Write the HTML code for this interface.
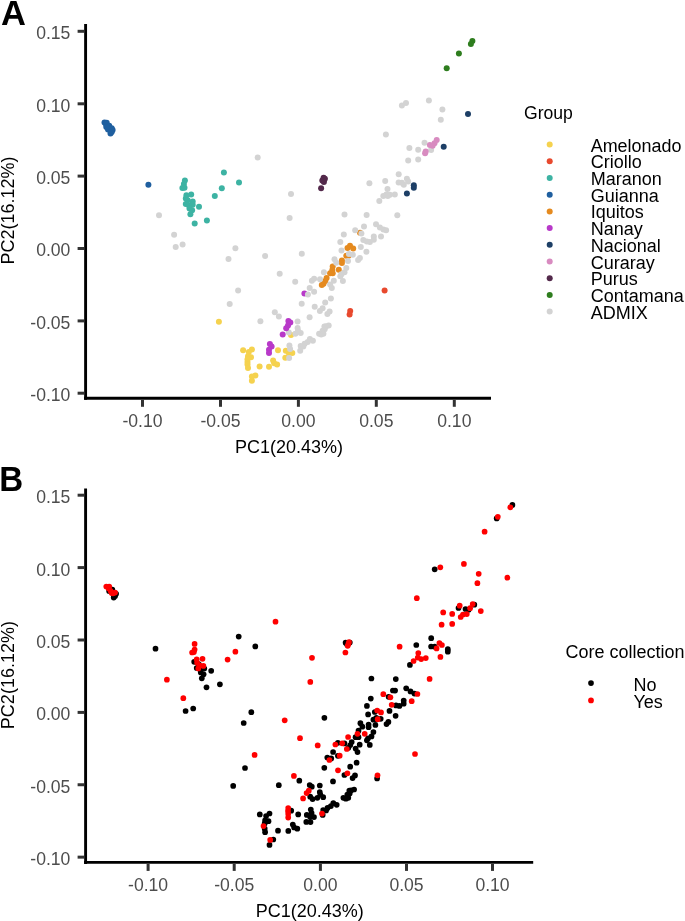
<!DOCTYPE html>
<html lang="en"><head><meta charset="utf-8"><title>PCA</title>
<style>
html,body{margin:0;padding:0;background:#fff;}
body{width:685px;height:921px;overflow:hidden;}
svg{display:block;font-family:"Liberation Sans", sans-serif;}
</style></head><body>
<svg width="685" height="921" viewBox="0 0 685 921">
<rect width="685" height="921" fill="#fff"/>
<g id="panelA">
<circle cx="285.8" cy="350.8" r="3.0" fill="#F5D24F"/>
<circle cx="288.8" cy="353" r="3.0" fill="#F5D24F"/>
<circle cx="292.3" cy="353" r="3.0" fill="#F5D24F"/>
<circle cx="285.3" cy="357.8" r="3.0" fill="#F5D24F"/>
<circle cx="291" cy="335" r="3.0" fill="#F5D24F"/>
<circle cx="341.9" cy="260.5" r="3.0" fill="#E58A1F"/>
<circle cx="341.9" cy="263.1" r="3.0" fill="#E58A1F"/>
<circle cx="332.7" cy="266.6" r="3.0" fill="#E58A1F"/>
<circle cx="338.8" cy="269.7" r="3.0" fill="#E58A1F"/>
<circle cx="332.3" cy="270.1" r="3.0" fill="#E58A1F"/>
<circle cx="330.1" cy="273.2" r="3.0" fill="#E58A1F"/>
<circle cx="332.7" cy="273.2" r="3.0" fill="#E58A1F"/>
<circle cx="326.6" cy="278" r="3.0" fill="#E58A1F"/>
<circle cx="325.3" cy="281.1" r="3.0" fill="#E58A1F"/>
<circle cx="323.5" cy="283.7" r="3.0" fill="#E58A1F"/>
<circle cx="321.8" cy="285" r="3.0" fill="#E58A1F"/>
<circle cx="346.3" cy="255.7" r="3.0" fill="#E58A1F"/>
<circle cx="360" cy="232.8" r="3.0" fill="#E58A1F"/>
<circle cx="350" cy="245.8" r="3.0" fill="#E58A1F"/>
<circle cx="347.5" cy="248" r="3.0" fill="#E58A1F"/>
<circle cx="353.2" cy="248.4" r="3.0" fill="#E58A1F"/>
<circle cx="348.5" cy="255.8" r="3.0" fill="#E58A1F"/>
<circle cx="304.4" cy="293.5" r="3.0" fill="#B839C9"/>
<circle cx="159" cy="215.3" r="3.0" fill="#D3D3D3"/>
<circle cx="174.1" cy="234.8" r="3.0" fill="#D3D3D3"/>
<circle cx="182.6" cy="244.5" r="3.0" fill="#D3D3D3"/>
<circle cx="175.7" cy="247" r="3.0" fill="#D3D3D3"/>
<circle cx="235.4" cy="248.2" r="3.0" fill="#D3D3D3"/>
<circle cx="257.7" cy="157.6" r="3.0" fill="#D3D3D3"/>
<circle cx="291" cy="194" r="3.0" fill="#D3D3D3"/>
<circle cx="289.6" cy="218.1" r="3.0" fill="#D3D3D3"/>
<circle cx="428.9" cy="100.4" r="3.0" fill="#D3D3D3"/>
<circle cx="406" cy="102.9" r="3.0" fill="#D3D3D3"/>
<circle cx="401.9" cy="105.4" r="3.0" fill="#D3D3D3"/>
<circle cx="442.4" cy="109.5" r="3.0" fill="#D3D3D3"/>
<circle cx="440.8" cy="119.8" r="3.0" fill="#D3D3D3"/>
<circle cx="424.5" cy="142.8" r="3.0" fill="#D3D3D3"/>
<circle cx="409.4" cy="148" r="3.0" fill="#D3D3D3"/>
<circle cx="418.2" cy="149.8" r="3.0" fill="#D3D3D3"/>
<circle cx="431.1" cy="150.1" r="3.0" fill="#D3D3D3"/>
<circle cx="408.2" cy="160.4" r="3.0" fill="#D3D3D3"/>
<circle cx="418.2" cy="159.5" r="3.0" fill="#D3D3D3"/>
<circle cx="398.7" cy="174.2" r="3.0" fill="#D3D3D3"/>
<circle cx="406.9" cy="178.8" r="3.0" fill="#D3D3D3"/>
<circle cx="408.2" cy="181.5" r="3.0" fill="#D3D3D3"/>
<circle cx="401.9" cy="182.8" r="3.0" fill="#D3D3D3"/>
<circle cx="403.8" cy="184.7" r="3.0" fill="#D3D3D3"/>
<circle cx="385.9" cy="134.6" r="3.0" fill="#D3D3D3"/>
<circle cx="398.6" cy="182.6" r="3.0" fill="#D3D3D3"/>
<circle cx="385.2" cy="181.1" r="3.0" fill="#D3D3D3"/>
<circle cx="369.4" cy="183.2" r="3.0" fill="#D3D3D3"/>
<circle cx="387.5" cy="188.9" r="3.0" fill="#D3D3D3"/>
<circle cx="394.8" cy="194.6" r="3.0" fill="#D3D3D3"/>
<circle cx="389.9" cy="194.8" r="3.0" fill="#D3D3D3"/>
<circle cx="386.4" cy="194.4" r="3.0" fill="#D3D3D3"/>
<circle cx="383.3" cy="196.1" r="3.0" fill="#D3D3D3"/>
<circle cx="379.3" cy="200.9" r="3.0" fill="#D3D3D3"/>
<circle cx="228.5" cy="259" r="3.0" fill="#D3D3D3"/>
<circle cx="265.1" cy="256" r="3.0" fill="#D3D3D3"/>
<circle cx="238.1" cy="290.4" r="3.0" fill="#D3D3D3"/>
<circle cx="229.7" cy="304" r="3.0" fill="#D3D3D3"/>
<circle cx="260.4" cy="321.2" r="3.0" fill="#D3D3D3"/>
<circle cx="301.7" cy="303.8" r="3.0" fill="#D3D3D3"/>
<circle cx="274.8" cy="312.3" r="3.0" fill="#D3D3D3"/>
<circle cx="278.9" cy="316.6" r="3.0" fill="#D3D3D3"/>
<circle cx="297.6" cy="321.5" r="3.0" fill="#D3D3D3"/>
<circle cx="309.6" cy="317.3" r="3.0" fill="#D3D3D3"/>
<circle cx="314.7" cy="306.8" r="3.0" fill="#D3D3D3"/>
<circle cx="325.2" cy="302.6" r="3.0" fill="#D3D3D3"/>
<circle cx="322.6" cy="308.3" r="3.0" fill="#D3D3D3"/>
<circle cx="319.9" cy="310.9" r="3.0" fill="#D3D3D3"/>
<circle cx="327.4" cy="314" r="3.0" fill="#D3D3D3"/>
<circle cx="329.6" cy="311.4" r="3.0" fill="#D3D3D3"/>
<circle cx="297.6" cy="328" r="3.0" fill="#D3D3D3"/>
<circle cx="288.8" cy="332.6" r="3.0" fill="#D3D3D3"/>
<circle cx="295.4" cy="333.7" r="3.0" fill="#D3D3D3"/>
<circle cx="300.7" cy="333.1" r="3.0" fill="#D3D3D3"/>
<circle cx="298" cy="330.7" r="3.0" fill="#D3D3D3"/>
<circle cx="326.1" cy="326.3" r="3.0" fill="#D3D3D3"/>
<circle cx="328.7" cy="325.4" r="3.0" fill="#D3D3D3"/>
<circle cx="322.6" cy="330.7" r="3.0" fill="#D3D3D3"/>
<circle cx="324.7" cy="329.3" r="3.0" fill="#D3D3D3"/>
<circle cx="319.1" cy="333.7" r="3.0" fill="#D3D3D3"/>
<circle cx="321.2" cy="334.6" r="3.0" fill="#D3D3D3"/>
<circle cx="323.4" cy="333.7" r="3.0" fill="#D3D3D3"/>
<circle cx="309.9" cy="339" r="3.0" fill="#D3D3D3"/>
<circle cx="312.9" cy="340.7" r="3.0" fill="#D3D3D3"/>
<circle cx="307.7" cy="342" r="3.0" fill="#D3D3D3"/>
<circle cx="304.6" cy="343.8" r="3.0" fill="#D3D3D3"/>
<circle cx="300.7" cy="346" r="3.0" fill="#D3D3D3"/>
<circle cx="303.3" cy="346.4" r="3.0" fill="#D3D3D3"/>
<circle cx="300.2" cy="350.8" r="3.0" fill="#D3D3D3"/>
<circle cx="289.4" cy="345.5" r="3.0" fill="#D3D3D3"/>
<circle cx="290.1" cy="349.1" r="3.0" fill="#D3D3D3"/>
<circle cx="289.1" cy="358" r="3.0" fill="#D3D3D3"/>
<circle cx="341.5" cy="250.4" r="3.0" fill="#D3D3D3"/>
<circle cx="366.4" cy="251.8" r="3.0" fill="#D3D3D3"/>
<circle cx="348.9" cy="253.9" r="3.0" fill="#D3D3D3"/>
<circle cx="352.8" cy="254.8" r="3.0" fill="#D3D3D3"/>
<circle cx="359.9" cy="257.9" r="3.0" fill="#D3D3D3"/>
<circle cx="358.1" cy="260.1" r="3.0" fill="#D3D3D3"/>
<circle cx="334.5" cy="259.2" r="3.0" fill="#D3D3D3"/>
<circle cx="336.2" cy="262.7" r="3.0" fill="#D3D3D3"/>
<circle cx="348" cy="260.9" r="3.0" fill="#D3D3D3"/>
<circle cx="346.3" cy="268" r="3.0" fill="#D3D3D3"/>
<circle cx="344.5" cy="272.3" r="3.0" fill="#D3D3D3"/>
<circle cx="323.9" cy="272.3" r="3.0" fill="#D3D3D3"/>
<circle cx="340.3" cy="276.3" r="3.0" fill="#D3D3D3"/>
<circle cx="342.9" cy="280.9" r="3.0" fill="#D3D3D3"/>
<circle cx="333.8" cy="280.7" r="3.0" fill="#D3D3D3"/>
<circle cx="320" cy="279.3" r="3.0" fill="#D3D3D3"/>
<circle cx="330.1" cy="284.6" r="3.0" fill="#D3D3D3"/>
<circle cx="331.8" cy="288.1" r="3.0" fill="#D3D3D3"/>
<circle cx="330.9" cy="298.6" r="3.0" fill="#D3D3D3"/>
<circle cx="324.4" cy="326.6" r="3.0" fill="#D3D3D3"/>
<circle cx="387.8" cy="195.9" r="3.0" fill="#D3D3D3"/>
<circle cx="344.5" cy="214.5" r="3.0" fill="#D3D3D3"/>
<circle cx="366.6" cy="215.1" r="3.0" fill="#D3D3D3"/>
<circle cx="376" cy="224.3" r="3.0" fill="#D3D3D3"/>
<circle cx="379.9" cy="227.4" r="3.0" fill="#D3D3D3"/>
<circle cx="383.4" cy="229.6" r="3.0" fill="#D3D3D3"/>
<circle cx="386.1" cy="230.2" r="3.0" fill="#D3D3D3"/>
<circle cx="364" cy="226.5" r="3.0" fill="#D3D3D3"/>
<circle cx="355.2" cy="230.2" r="3.0" fill="#D3D3D3"/>
<circle cx="361.4" cy="233.4" r="3.0" fill="#D3D3D3"/>
<circle cx="343.8" cy="234.6" r="3.0" fill="#D3D3D3"/>
<circle cx="373.8" cy="236.6" r="3.0" fill="#D3D3D3"/>
<circle cx="381" cy="236.6" r="3.0" fill="#D3D3D3"/>
<circle cx="373.8" cy="239.7" r="3.0" fill="#D3D3D3"/>
<circle cx="363.3" cy="240.1" r="3.0" fill="#D3D3D3"/>
<circle cx="366.8" cy="241.4" r="3.0" fill="#D3D3D3"/>
<circle cx="369.9" cy="241.9" r="3.0" fill="#D3D3D3"/>
<circle cx="340.3" cy="241.9" r="3.0" fill="#D3D3D3"/>
<circle cx="360.8" cy="246.9" r="3.0" fill="#D3D3D3"/>
<circle cx="341.4" cy="274.3" r="3.0" fill="#D3D3D3"/>
<circle cx="397.3" cy="215.3" r="3.0" fill="#D3D3D3"/>
<circle cx="301.8" cy="253.8" r="3.0" fill="#D3D3D3"/>
<circle cx="279.7" cy="273.8" r="3.0" fill="#D3D3D3"/>
<circle cx="295.2" cy="281.7" r="3.0" fill="#D3D3D3"/>
<circle cx="311.9" cy="280.7" r="3.0" fill="#D3D3D3"/>
<circle cx="314.1" cy="278.8" r="3.0" fill="#D3D3D3"/>
<circle cx="309.7" cy="288" r="3.0" fill="#D3D3D3"/>
<circle cx="314.1" cy="291.8" r="3.0" fill="#D3D3D3"/>
<circle cx="307.9" cy="294.4" r="3.0" fill="#D3D3D3"/>
<circle cx="148.4" cy="184.7" r="3.0" fill="#1F5F9F"/>
<circle cx="104.5" cy="122.6" r="3.0" fill="#1F5F9F"/>
<circle cx="106.1" cy="124.5" r="3.0" fill="#1F5F9F"/>
<circle cx="107.6" cy="126.4" r="3.0" fill="#1F5F9F"/>
<circle cx="109.2" cy="128.2" r="3.0" fill="#1F5F9F"/>
<circle cx="110.5" cy="130.8" r="3.0" fill="#1F5F9F"/>
<circle cx="110.5" cy="133.6" r="3.0" fill="#1F5F9F"/>
<circle cx="112.6" cy="129.9" r="3.0" fill="#1F5F9F"/>
<circle cx="108" cy="129.5" r="3.0" fill="#1F5F9F"/>
<circle cx="111.7" cy="132" r="3.0" fill="#1F5F9F"/>
<circle cx="106.7" cy="122.8" r="3.0" fill="#1F5F9F"/>
<circle cx="109.2" cy="125.7" r="3.0" fill="#1F5F9F"/>
<circle cx="111.7" cy="128.2" r="3.0" fill="#1F5F9F"/>
<circle cx="106.3" cy="127" r="3.0" fill="#1F5F9F"/>
<circle cx="223.9" cy="172.6" r="3.0" fill="#3DB3A3"/>
<circle cx="221.8" cy="188.2" r="3.0" fill="#3DB3A3"/>
<circle cx="214.8" cy="196" r="3.0" fill="#3DB3A3"/>
<circle cx="184.9" cy="180.4" r="3.0" fill="#3DB3A3"/>
<circle cx="183.9" cy="183.9" r="3.0" fill="#3DB3A3"/>
<circle cx="182.4" cy="188.1" r="3.0" fill="#3DB3A3"/>
<circle cx="184.5" cy="187.7" r="3.0" fill="#3DB3A3"/>
<circle cx="191.2" cy="194.6" r="3.0" fill="#3DB3A3"/>
<circle cx="186.4" cy="195.2" r="3.0" fill="#3DB3A3"/>
<circle cx="185.8" cy="198.4" r="3.0" fill="#3DB3A3"/>
<circle cx="187.7" cy="200.3" r="3.0" fill="#3DB3A3"/>
<circle cx="192.7" cy="201.5" r="3.0" fill="#3DB3A3"/>
<circle cx="185.8" cy="204" r="3.0" fill="#3DB3A3"/>
<circle cx="188.9" cy="205.3" r="3.0" fill="#3DB3A3"/>
<circle cx="192.7" cy="204.7" r="3.0" fill="#3DB3A3"/>
<circle cx="199" cy="206.8" r="3.0" fill="#3DB3A3"/>
<circle cx="189.5" cy="208.4" r="3.0" fill="#3DB3A3"/>
<circle cx="192.1" cy="210.3" r="3.0" fill="#3DB3A3"/>
<circle cx="190.4" cy="214.3" r="3.0" fill="#3DB3A3"/>
<circle cx="206.9" cy="220.4" r="3.0" fill="#3DB3A3"/>
<circle cx="194.7" cy="223.4" r="3.0" fill="#3DB3A3"/>
<circle cx="239" cy="182.4" r="3.0" fill="#3DB3A3"/>
<circle cx="323.6" cy="177.7" r="3.0" fill="#53294B"/>
<circle cx="323.9" cy="179.9" r="3.0" fill="#53294B"/>
<circle cx="323.9" cy="182.1" r="3.0" fill="#53294B"/>
<circle cx="321.1" cy="188.2" r="3.0" fill="#53294B"/>
<circle cx="472.4" cy="41.1" r="3.0" fill="#2E7D1E"/>
<circle cx="470.9" cy="43.9" r="3.0" fill="#2E7D1E"/>
<circle cx="458.9" cy="53.6" r="3.0" fill="#2E7D1E"/>
<circle cx="446.7" cy="68.2" r="3.0" fill="#2E7D1E"/>
<circle cx="468" cy="114" r="3.0" fill="#1D3F66"/>
<circle cx="436.7" cy="140.1" r="3.0" fill="#D88BC0"/>
<circle cx="434.5" cy="143.2" r="3.0" fill="#D88BC0"/>
<circle cx="429.9" cy="145.1" r="3.0" fill="#D88BC0"/>
<circle cx="432.6" cy="145.7" r="3.0" fill="#D88BC0"/>
<circle cx="425.7" cy="151.4" r="3.0" fill="#D88BC0"/>
<circle cx="425.1" cy="153.3" r="3.0" fill="#D88BC0"/>
<circle cx="443.7" cy="146.7" r="3.0" fill="#1D3F66"/>
<circle cx="413.8" cy="185.3" r="3.0" fill="#1D3F66"/>
<circle cx="413.8" cy="187.8" r="3.0" fill="#1D3F66"/>
<circle cx="406.9" cy="193.4" r="3.0" fill="#1D3F66"/>
<circle cx="218.9" cy="321.8" r="3.0" fill="#F5D24F"/>
<circle cx="243.1" cy="350.3" r="3.0" fill="#F5D24F"/>
<circle cx="251.9" cy="349.4" r="3.0" fill="#F5D24F"/>
<circle cx="248.8" cy="351.9" r="3.0" fill="#F5D24F"/>
<circle cx="251" cy="357.2" r="3.0" fill="#F5D24F"/>
<circle cx="248" cy="356.3" r="3.0" fill="#F5D24F"/>
<circle cx="247.5" cy="359.3" r="3.0" fill="#F5D24F"/>
<circle cx="247.5" cy="362" r="3.0" fill="#F5D24F"/>
<circle cx="247.5" cy="364.6" r="3.0" fill="#F5D24F"/>
<circle cx="248" cy="368.1" r="3.0" fill="#F5D24F"/>
<circle cx="259.6" cy="366.6" r="3.0" fill="#F5D24F"/>
<circle cx="269" cy="366.8" r="3.0" fill="#F5D24F"/>
<circle cx="273.1" cy="360.5" r="3.0" fill="#F5D24F"/>
<circle cx="274.2" cy="363.3" r="3.0" fill="#F5D24F"/>
<circle cx="277.1" cy="364.6" r="3.0" fill="#F5D24F"/>
<circle cx="278" cy="350.3" r="3.0" fill="#F5D24F"/>
<circle cx="255.4" cy="375.4" r="3.0" fill="#F5D24F"/>
<circle cx="251.9" cy="376.4" r="3.0" fill="#F5D24F"/>
<circle cx="251.9" cy="380.8" r="3.0" fill="#F5D24F"/>
<circle cx="269.9" cy="344" r="3.0" fill="#B839C9"/>
<circle cx="271.6" cy="346.6" r="3.0" fill="#B839C9"/>
<circle cx="269" cy="349.7" r="3.0" fill="#B839C9"/>
<circle cx="269" cy="352.9" r="3.0" fill="#B839C9"/>
<circle cx="288.4" cy="321" r="3.0" fill="#B839C9"/>
<circle cx="290.3" cy="322.6" r="3.0" fill="#B839C9"/>
<circle cx="288" cy="325.4" r="3.0" fill="#B839C9"/>
<circle cx="286.2" cy="328.2" r="3.0" fill="#B839C9"/>
<circle cx="282.7" cy="334.4" r="3.0" fill="#B839C9"/>
<circle cx="350.2" cy="310.9" r="3.0" fill="#E8492E"/>
<circle cx="349.6" cy="314.4" r="3.0" fill="#E8492E"/>
<circle cx="384.6" cy="290.4" r="3.0" fill="#E8492E"/>
<circle cx="324.9" cy="178.7" r="3.0" fill="#53294B"/>
<circle cx="322.3" cy="180.4" r="3.0" fill="#53294B"/>
<line x1="85.6" y1="24" x2="85.6" y2="399.8" stroke="#000" stroke-width="2.9"/>
<line x1="84.1" y1="398.3" x2="491" y2="398.3" stroke="#000" stroke-width="2.9"/>
<line x1="77.6" y1="31.3" x2="84.1" y2="31.3" stroke="#333" stroke-width="3"/>
<text x="70.39999999999999" y="39.2" text-anchor="end" font-size="17.6" fill="#4d4d4d">0.15</text>
<line x1="77.6" y1="103.8" x2="84.1" y2="103.8" stroke="#333" stroke-width="3"/>
<text x="70.39999999999999" y="111.7" text-anchor="end" font-size="17.6" fill="#4d4d4d">0.10</text>
<line x1="77.6" y1="176.1" x2="84.1" y2="176.1" stroke="#333" stroke-width="3"/>
<text x="70.39999999999999" y="184.0" text-anchor="end" font-size="17.6" fill="#4d4d4d">0.05</text>
<line x1="77.6" y1="248.5" x2="84.1" y2="248.5" stroke="#333" stroke-width="3"/>
<text x="70.39999999999999" y="256.4" text-anchor="end" font-size="17.6" fill="#4d4d4d">0.00</text>
<line x1="77.6" y1="320.9" x2="84.1" y2="320.9" stroke="#333" stroke-width="3"/>
<text x="70.39999999999999" y="328.79999999999995" text-anchor="end" font-size="17.6" fill="#4d4d4d">-0.05</text>
<line x1="77.6" y1="393.2" x2="84.1" y2="393.2" stroke="#333" stroke-width="3"/>
<text x="70.39999999999999" y="401.09999999999997" text-anchor="end" font-size="17.6" fill="#4d4d4d">-0.10</text>
<line x1="142.5" y1="399.8" x2="142.5" y2="406.8" stroke="#333" stroke-width="3"/>
<text x="142.5" y="427.1" text-anchor="middle" font-size="17.6" fill="#4d4d4d">-0.10</text>
<line x1="220.5" y1="399.8" x2="220.5" y2="406.8" stroke="#333" stroke-width="3"/>
<text x="220.5" y="427.1" text-anchor="middle" font-size="17.6" fill="#4d4d4d">-0.05</text>
<line x1="298.4" y1="399.8" x2="298.4" y2="406.8" stroke="#333" stroke-width="3"/>
<text x="298.4" y="427.1" text-anchor="middle" font-size="17.6" fill="#4d4d4d">0.00</text>
<line x1="376.3" y1="399.8" x2="376.3" y2="406.8" stroke="#333" stroke-width="3"/>
<text x="376.3" y="427.1" text-anchor="middle" font-size="17.6" fill="#4d4d4d">0.05</text>
<line x1="454.3" y1="399.8" x2="454.3" y2="406.8" stroke="#333" stroke-width="3"/>
<text x="454.3" y="427.1" text-anchor="middle" font-size="17.6" fill="#4d4d4d">0.10</text>
<text x="1" y="25.3" font-size="34.5" font-weight="bold" fill="#000">A</text>
<text transform="translate(14.2,210.5) rotate(-90)" text-anchor="middle" font-size="18" fill="#000">PC2(16.12%)</text>
<text x="289" y="452.7" text-anchor="middle" font-size="18" fill="#000">PC1(20.43%)</text>
<text x="524" y="118.6" font-size="17.6" fill="#000">Group</text>
<circle cx="549.7" cy="144.6" r="3.0" fill="#F5D24F"/>
<text x="590.7" y="151.6" font-size="18" textLength="90.8" lengthAdjust="spacingAndGlyphs" fill="#000">Amelonado</text>
<circle cx="549.7" cy="161.3" r="3.0" fill="#E8492E"/>
<text x="590.7" y="168.3" font-size="18" fill="#000">Criollo</text>
<circle cx="549.7" cy="178.0" r="3.0" fill="#3DB3A3"/>
<text x="590.7" y="185.0" font-size="18" fill="#000">Maranon</text>
<circle cx="549.7" cy="194.7" r="3.0" fill="#1F5F9F"/>
<text x="590.7" y="201.7" font-size="18" fill="#000">Guianna</text>
<circle cx="549.7" cy="211.4" r="3.0" fill="#E58A1F"/>
<text x="590.7" y="218.4" font-size="18" fill="#000">Iquitos</text>
<circle cx="549.7" cy="228.1" r="3.0" fill="#B839C9"/>
<text x="590.7" y="235.1" font-size="18" fill="#000">Nanay</text>
<circle cx="549.7" cy="244.8" r="3.0" fill="#1D3F66"/>
<text x="590.7" y="251.8" font-size="18" fill="#000">Nacional</text>
<circle cx="549.7" cy="261.5" r="3.0" fill="#D88BC0"/>
<text x="590.7" y="268.5" font-size="18" fill="#000">Curaray</text>
<circle cx="549.7" cy="278.2" r="3.0" fill="#53294B"/>
<text x="590.7" y="285.2" font-size="18" fill="#000">Purus</text>
<circle cx="549.7" cy="294.9" r="3.0" fill="#2E7D1E"/>
<text x="590.7" y="301.9" font-size="18" fill="#000">Contamana</text>
<circle cx="549.7" cy="311.6" r="3.0" fill="#D3D3D3"/>
<text x="590.7" y="318.6" font-size="18" fill="#000">ADMIX</text>
</g>
<g id="panelB">
<circle cx="155.5" cy="648.7" r="2.85" fill="#000000"/>
<circle cx="112.3" cy="592.1" r="2.85" fill="#000000"/>
<circle cx="113.7" cy="594.7" r="2.85" fill="#000000"/>
<circle cx="113.7" cy="597.6" r="2.85" fill="#000000"/>
<circle cx="116.1" cy="593.8" r="2.85" fill="#000000"/>
<circle cx="115.1" cy="595.9" r="2.85" fill="#000000"/>
<circle cx="112.3" cy="589.6" r="2.85" fill="#000000"/>
<circle cx="109.1" cy="590.9" r="2.85" fill="#000000"/>
<circle cx="238.7" cy="636.6" r="2.85" fill="#000000"/>
<circle cx="198.7" cy="664.2" r="2.85" fill="#000000"/>
<circle cx="196.7" cy="668" r="2.85" fill="#000000"/>
<circle cx="200.1" cy="669.2" r="2.85" fill="#000000"/>
<circle cx="204.3" cy="668.6" r="2.85" fill="#000000"/>
<circle cx="211.2" cy="670.8" r="2.85" fill="#000000"/>
<circle cx="200.8" cy="672.4" r="2.85" fill="#000000"/>
<circle cx="203.6" cy="674.3" r="2.85" fill="#000000"/>
<circle cx="201.8" cy="678.3" r="2.85" fill="#000000"/>
<circle cx="219.9" cy="684.3" r="2.85" fill="#000000"/>
<circle cx="206.5" cy="687.3" r="2.85" fill="#000000"/>
<circle cx="193.2" cy="708.5" r="2.85" fill="#000000"/>
<circle cx="185.6" cy="711" r="2.85" fill="#000000"/>
<circle cx="251.3" cy="712.2" r="2.85" fill="#000000"/>
<circle cx="255.3" cy="646.4" r="2.85" fill="#000000"/>
<circle cx="512.4" cy="504.9" r="2.85" fill="#000000"/>
<circle cx="434.7" cy="569.3" r="2.85" fill="#000000"/>
<circle cx="465.5" cy="609" r="2.85" fill="#000000"/>
<circle cx="468.6" cy="609.7" r="2.85" fill="#000000"/>
<circle cx="447.8" cy="649.2" r="2.85" fill="#000000"/>
<circle cx="447.8" cy="651.7" r="2.85" fill="#000000"/>
<circle cx="431.2" cy="638.2" r="2.85" fill="#000000"/>
<circle cx="434.7" cy="646.7" r="2.85" fill="#000000"/>
<circle cx="431.1" cy="646.5" r="2.85" fill="#000000"/>
<circle cx="416.3" cy="645" r="2.85" fill="#000000"/>
<circle cx="409.9" cy="664.9" r="2.85" fill="#000000"/>
<circle cx="243.7" cy="723" r="2.85" fill="#000000"/>
<circle cx="245" cy="768" r="2.85" fill="#000000"/>
<circle cx="278.8" cy="785.2" r="2.85" fill="#000000"/>
<circle cx="233.2" cy="785.9" r="2.85" fill="#000000"/>
<circle cx="259.8" cy="814.4" r="2.85" fill="#000000"/>
<circle cx="269.5" cy="813.5" r="2.85" fill="#000000"/>
<circle cx="266.1" cy="816" r="2.85" fill="#000000"/>
<circle cx="268.5" cy="821.2" r="2.85" fill="#000000"/>
<circle cx="265.1" cy="820.4" r="2.85" fill="#000000"/>
<circle cx="264.7" cy="823.4" r="2.85" fill="#000000"/>
<circle cx="264.7" cy="828.7" r="2.85" fill="#000000"/>
<circle cx="265.1" cy="832.2" r="2.85" fill="#000000"/>
<circle cx="278" cy="830.7" r="2.85" fill="#000000"/>
<circle cx="288.3" cy="830.9" r="2.85" fill="#000000"/>
<circle cx="292.8" cy="824.6" r="2.85" fill="#000000"/>
<circle cx="294.1" cy="827.4" r="2.85" fill="#000000"/>
<circle cx="297.3" cy="828.7" r="2.85" fill="#000000"/>
<circle cx="298.2" cy="814.4" r="2.85" fill="#000000"/>
<circle cx="273.3" cy="839.5" r="2.85" fill="#000000"/>
<circle cx="269.5" cy="844.9" r="2.85" fill="#000000"/>
<circle cx="291.2" cy="810.7" r="2.85" fill="#000000"/>
<circle cx="309.7" cy="785.1" r="2.85" fill="#000000"/>
<circle cx="311.8" cy="786.7" r="2.85" fill="#000000"/>
<circle cx="306.8" cy="814.9" r="2.85" fill="#000000"/>
<circle cx="310.2" cy="817.1" r="2.85" fill="#000000"/>
<circle cx="314" cy="817.1" r="2.85" fill="#000000"/>
<circle cx="306.3" cy="821.9" r="2.85" fill="#000000"/>
<circle cx="312.6" cy="799.1" r="2.85" fill="#000000"/>
<circle cx="324.3" cy="767.8" r="2.85" fill="#000000"/>
<circle cx="299.3" cy="780.7" r="2.85" fill="#000000"/>
<circle cx="319.8" cy="785.5" r="2.85" fill="#000000"/>
<circle cx="333" cy="781.4" r="2.85" fill="#000000"/>
<circle cx="350.2" cy="766.7" r="2.85" fill="#000000"/>
<circle cx="344.4" cy="775" r="2.85" fill="#000000"/>
<circle cx="352.6" cy="778.1" r="2.85" fill="#000000"/>
<circle cx="355" cy="775.4" r="2.85" fill="#000000"/>
<circle cx="319.8" cy="792.1" r="2.85" fill="#000000"/>
<circle cx="310.2" cy="796.7" r="2.85" fill="#000000"/>
<circle cx="317.4" cy="797.8" r="2.85" fill="#000000"/>
<circle cx="323.2" cy="797.2" r="2.85" fill="#000000"/>
<circle cx="320.3" cy="794.7" r="2.85" fill="#000000"/>
<circle cx="351.2" cy="790.3" r="2.85" fill="#000000"/>
<circle cx="354.1" cy="789.5" r="2.85" fill="#000000"/>
<circle cx="347.3" cy="794.7" r="2.85" fill="#000000"/>
<circle cx="349.7" cy="793.4" r="2.85" fill="#000000"/>
<circle cx="343.4" cy="797.8" r="2.85" fill="#000000"/>
<circle cx="345.9" cy="798.7" r="2.85" fill="#000000"/>
<circle cx="348.3" cy="797.8" r="2.85" fill="#000000"/>
<circle cx="333.3" cy="803.1" r="2.85" fill="#000000"/>
<circle cx="336.7" cy="804.8" r="2.85" fill="#000000"/>
<circle cx="330.9" cy="806.1" r="2.85" fill="#000000"/>
<circle cx="327.5" cy="807.9" r="2.85" fill="#000000"/>
<circle cx="323.2" cy="810.1" r="2.85" fill="#000000"/>
<circle cx="326.1" cy="810.5" r="2.85" fill="#000000"/>
<circle cx="322.7" cy="814.9" r="2.85" fill="#000000"/>
<circle cx="310.8" cy="809.6" r="2.85" fill="#000000"/>
<circle cx="311.6" cy="813.1" r="2.85" fill="#000000"/>
<circle cx="310.5" cy="822.1" r="2.85" fill="#000000"/>
<circle cx="377.1" cy="778.4" r="2.85" fill="#000000"/>
<circle cx="368.6" cy="724.5" r="2.85" fill="#000000"/>
<circle cx="368.6" cy="727.2" r="2.85" fill="#000000"/>
<circle cx="358.5" cy="730.7" r="2.85" fill="#000000"/>
<circle cx="355.6" cy="737.2" r="2.85" fill="#000000"/>
<circle cx="358.5" cy="737.2" r="2.85" fill="#000000"/>
<circle cx="351.7" cy="742.1" r="2.85" fill="#000000"/>
<circle cx="350.3" cy="745.1" r="2.85" fill="#000000"/>
<circle cx="348.4" cy="747.8" r="2.85" fill="#000000"/>
<circle cx="373.4" cy="719.7" r="2.85" fill="#000000"/>
<circle cx="368.1" cy="714.4" r="2.85" fill="#000000"/>
<circle cx="395.6" cy="715.8" r="2.85" fill="#000000"/>
<circle cx="376.3" cy="717.9" r="2.85" fill="#000000"/>
<circle cx="380.7" cy="718.8" r="2.85" fill="#000000"/>
<circle cx="388.4" cy="721.9" r="2.85" fill="#000000"/>
<circle cx="386.5" cy="724.1" r="2.85" fill="#000000"/>
<circle cx="360.4" cy="723.2" r="2.85" fill="#000000"/>
<circle cx="362.3" cy="726.7" r="2.85" fill="#000000"/>
<circle cx="375.4" cy="725" r="2.85" fill="#000000"/>
<circle cx="373.4" cy="732" r="2.85" fill="#000000"/>
<circle cx="371.5" cy="736.4" r="2.85" fill="#000000"/>
<circle cx="366.9" cy="740.3" r="2.85" fill="#000000"/>
<circle cx="369.8" cy="744.9" r="2.85" fill="#000000"/>
<circle cx="359.7" cy="744.7" r="2.85" fill="#000000"/>
<circle cx="344.5" cy="743.4" r="2.85" fill="#000000"/>
<circle cx="355.6" cy="748.6" r="2.85" fill="#000000"/>
<circle cx="357.5" cy="752.1" r="2.85" fill="#000000"/>
<circle cx="356.6" cy="762.7" r="2.85" fill="#000000"/>
<circle cx="349.3" cy="790.7" r="2.85" fill="#000000"/>
<circle cx="388.6" cy="696.8" r="2.85" fill="#000000"/>
<circle cx="374.8" cy="712" r="2.85" fill="#000000"/>
<circle cx="375.9" cy="719.8" r="2.85" fill="#000000"/>
<circle cx="371.4" cy="678.5" r="2.85" fill="#000000"/>
<circle cx="395.8" cy="679.1" r="2.85" fill="#000000"/>
<circle cx="406.2" cy="688.3" r="2.85" fill="#000000"/>
<circle cx="410.5" cy="691.4" r="2.85" fill="#000000"/>
<circle cx="414.4" cy="693.6" r="2.85" fill="#000000"/>
<circle cx="392.9" cy="690.5" r="2.85" fill="#000000"/>
<circle cx="370.8" cy="698.6" r="2.85" fill="#000000"/>
<circle cx="403.7" cy="700.6" r="2.85" fill="#000000"/>
<circle cx="403.7" cy="703.7" r="2.85" fill="#000000"/>
<circle cx="396" cy="705.4" r="2.85" fill="#000000"/>
<circle cx="399.4" cy="705.9" r="2.85" fill="#000000"/>
<circle cx="366.9" cy="705.9" r="2.85" fill="#000000"/>
<circle cx="389.5" cy="710.9" r="2.85" fill="#000000"/>
<circle cx="368.1" cy="738.3" r="2.85" fill="#000000"/>
<circle cx="327.3" cy="757.5" r="2.85" fill="#000000"/>
<circle cx="324.4" cy="717.8" r="2.85" fill="#000000"/>
<circle cx="337.9" cy="742.8" r="2.85" fill="#000000"/>
<circle cx="333.1" cy="752" r="2.85" fill="#000000"/>
<circle cx="337.9" cy="755.8" r="2.85" fill="#000000"/>
<circle cx="331.2" cy="758.4" r="2.85" fill="#000000"/>
<circle cx="349.8" cy="642.6" r="2.85" fill="#000000"/>
<circle cx="347.1" cy="644.4" r="2.85" fill="#000000"/>
<circle cx="194.2" cy="661.8" r="2.85" fill="#000000"/>
<circle cx="345.6" cy="642.7" r="2.85" fill="#000000"/>
<circle cx="395.1" cy="690.6" r="2.85" fill="#000000"/>
<circle cx="474.3" cy="604.7" r="2.85" fill="#000000"/>
<circle cx="458.5" cy="608" r="2.85" fill="#000000"/>
<circle cx="496.7" cy="518.4" r="2.85" fill="#000000"/>
<circle cx="510.3" cy="507.4" r="2.85" fill="#FF0000"/>
<circle cx="497.8" cy="516.8" r="2.85" fill="#FF0000"/>
<circle cx="484.6" cy="531.7" r="2.85" fill="#FF0000"/>
<circle cx="463.9" cy="563.9" r="2.85" fill="#FF0000"/>
<circle cx="440.3" cy="567.3" r="2.85" fill="#FF0000"/>
<circle cx="478.7" cy="573.8" r="2.85" fill="#FF0000"/>
<circle cx="507.4" cy="577.7" r="2.85" fill="#FF0000"/>
<circle cx="477.4" cy="583.2" r="2.85" fill="#FF0000"/>
<circle cx="106.3" cy="586.6" r="2.85" fill="#FF0000"/>
<circle cx="108.6" cy="588.2" r="2.85" fill="#FF0000"/>
<circle cx="110.5" cy="590.8" r="2.85" fill="#FF0000"/>
<circle cx="111.7" cy="592.9" r="2.85" fill="#FF0000"/>
<circle cx="115.1" cy="592.6" r="2.85" fill="#FF0000"/>
<circle cx="194.6" cy="643.9" r="2.85" fill="#FF0000"/>
<circle cx="194.6" cy="649.6" r="2.85" fill="#FF0000"/>
<circle cx="192.1" cy="652.5" r="2.85" fill="#FF0000"/>
<circle cx="193.9" cy="652.1" r="2.85" fill="#FF0000"/>
<circle cx="202.5" cy="658.8" r="2.85" fill="#FF0000"/>
<circle cx="196.7" cy="659.3" r="2.85" fill="#FF0000"/>
<circle cx="197.1" cy="662.8" r="2.85" fill="#FF0000"/>
<circle cx="199.6" cy="665.3" r="2.85" fill="#FF0000"/>
<circle cx="203.4" cy="665.9" r="2.85" fill="#FF0000"/>
<circle cx="198.3" cy="668.4" r="2.85" fill="#FF0000"/>
<circle cx="227.6" cy="659.6" r="2.85" fill="#FF0000"/>
<circle cx="235.4" cy="651.7" r="2.85" fill="#FF0000"/>
<circle cx="166.9" cy="679.7" r="2.85" fill="#FF0000"/>
<circle cx="183.3" cy="698.2" r="2.85" fill="#FF0000"/>
<circle cx="275.5" cy="621.7" r="2.85" fill="#FF0000"/>
<circle cx="312" cy="657.8" r="2.85" fill="#FF0000"/>
<circle cx="310.3" cy="681.9" r="2.85" fill="#FF0000"/>
<circle cx="349" cy="642.1" r="2.85" fill="#FF0000"/>
<circle cx="348.4" cy="643.9" r="2.85" fill="#FF0000"/>
<circle cx="347.7" cy="645.8" r="2.85" fill="#FF0000"/>
<circle cx="345.4" cy="652.5" r="2.85" fill="#FF0000"/>
<circle cx="399.6" cy="646.7" r="2.85" fill="#FF0000"/>
<circle cx="383.3" cy="694.2" r="2.85" fill="#FF0000"/>
<circle cx="390.4" cy="697.3" r="2.85" fill="#FF0000"/>
<circle cx="391.7" cy="704.8" r="2.85" fill="#FF0000"/>
<circle cx="377.2" cy="710.5" r="2.85" fill="#FF0000"/>
<circle cx="381" cy="712.4" r="2.85" fill="#FF0000"/>
<circle cx="416.8" cy="598.2" r="2.85" fill="#FF0000"/>
<circle cx="459.7" cy="605.7" r="2.85" fill="#FF0000"/>
<circle cx="472.7" cy="604.1" r="2.85" fill="#FF0000"/>
<circle cx="470.1" cy="608.2" r="2.85" fill="#FF0000"/>
<circle cx="480.8" cy="611.1" r="2.85" fill="#FF0000"/>
<circle cx="443.2" cy="612.4" r="2.85" fill="#FF0000"/>
<circle cx="452.2" cy="613.9" r="2.85" fill="#FF0000"/>
<circle cx="463" cy="614.5" r="2.85" fill="#FF0000"/>
<circle cx="466.8" cy="614.1" r="2.85" fill="#FF0000"/>
<circle cx="460.7" cy="617" r="2.85" fill="#FF0000"/>
<circle cx="441.6" cy="624.7" r="2.85" fill="#FF0000"/>
<circle cx="452.2" cy="623.9" r="2.85" fill="#FF0000"/>
<circle cx="439.4" cy="643" r="2.85" fill="#FF0000"/>
<circle cx="441.9" cy="645" r="2.85" fill="#FF0000"/>
<circle cx="436.6" cy="648.4" r="2.85" fill="#FF0000"/>
<circle cx="440.4" cy="656.9" r="2.85" fill="#FF0000"/>
<circle cx="418.3" cy="653" r="2.85" fill="#FF0000"/>
<circle cx="417.8" cy="657.6" r="2.85" fill="#FF0000"/>
<circle cx="421.2" cy="659.1" r="2.85" fill="#FF0000"/>
<circle cx="425.8" cy="658.1" r="2.85" fill="#FF0000"/>
<circle cx="413.6" cy="661" r="2.85" fill="#FF0000"/>
<circle cx="429.6" cy="678.9" r="2.85" fill="#FF0000"/>
<circle cx="417.4" cy="694" r="2.85" fill="#FF0000"/>
<circle cx="263.5" cy="826.1" r="2.85" fill="#FF0000"/>
<circle cx="270.2" cy="839.9" r="2.85" fill="#FF0000"/>
<circle cx="288.2" cy="808" r="2.85" fill="#FF0000"/>
<circle cx="288" cy="811" r="2.85" fill="#FF0000"/>
<circle cx="288.2" cy="814.1" r="2.85" fill="#FF0000"/>
<circle cx="288.2" cy="817.6" r="2.85" fill="#FF0000"/>
<circle cx="293.9" cy="775.9" r="2.85" fill="#FF0000"/>
<circle cx="338" cy="770.3" r="2.85" fill="#FF0000"/>
<circle cx="347.4" cy="773.3" r="2.85" fill="#FF0000"/>
<circle cx="308.8" cy="790.7" r="2.85" fill="#FF0000"/>
<circle cx="306.6" cy="793.1" r="2.85" fill="#FF0000"/>
<circle cx="303.1" cy="798.4" r="2.85" fill="#FF0000"/>
<circle cx="322" cy="813.6" r="2.85" fill="#FF0000"/>
<circle cx="329.4" cy="760" r="2.85" fill="#FF0000"/>
<circle cx="377.7" cy="719.2" r="2.85" fill="#FF0000"/>
<circle cx="357.5" cy="733.8" r="2.85" fill="#FF0000"/>
<circle cx="364.7" cy="733.8" r="2.85" fill="#FF0000"/>
<circle cx="348.1" cy="737" r="2.85" fill="#FF0000"/>
<circle cx="342.2" cy="743.3" r="2.85" fill="#FF0000"/>
<circle cx="346.8" cy="749" r="2.85" fill="#FF0000"/>
<circle cx="377.5" cy="775.3" r="2.85" fill="#FF0000"/>
<circle cx="411.7" cy="701.2" r="2.85" fill="#FF0000"/>
<circle cx="415" cy="754" r="2.85" fill="#FF0000"/>
<circle cx="254.6" cy="754.9" r="2.85" fill="#FF0000"/>
<circle cx="284.7" cy="720.3" r="2.85" fill="#FF0000"/>
<circle cx="109.2" cy="586.6" r="2.85" fill="#FF0000"/>
<circle cx="113" cy="593.3" r="2.85" fill="#FF0000"/>
<circle cx="339.7" cy="755.7" r="2.85" fill="#FF0000"/>
<circle cx="300" cy="738.2" r="2.85" fill="#FF0000"/>
<circle cx="317.7" cy="745.4" r="2.85" fill="#FF0000"/>
<circle cx="335.4" cy="744.5" r="2.85" fill="#FF0000"/>
<line x1="85.6" y1="488.4" x2="85.6" y2="863.9" stroke="#000" stroke-width="2.9"/>
<line x1="84.1" y1="862.4" x2="533.2" y2="862.4" stroke="#000" stroke-width="2.9"/>
<line x1="77.6" y1="495.2" x2="84.1" y2="495.2" stroke="#333" stroke-width="3"/>
<text x="70.39999999999999" y="503.09999999999997" text-anchor="end" font-size="17.6" fill="#4d4d4d">0.15</text>
<line x1="77.6" y1="567.6" x2="84.1" y2="567.6" stroke="#333" stroke-width="3"/>
<text x="70.39999999999999" y="575.5" text-anchor="end" font-size="17.6" fill="#4d4d4d">0.10</text>
<line x1="77.6" y1="640.0" x2="84.1" y2="640.0" stroke="#333" stroke-width="3"/>
<text x="70.39999999999999" y="647.9" text-anchor="end" font-size="17.6" fill="#4d4d4d">0.05</text>
<line x1="77.6" y1="712.4" x2="84.1" y2="712.4" stroke="#333" stroke-width="3"/>
<text x="70.39999999999999" y="720.3" text-anchor="end" font-size="17.6" fill="#4d4d4d">0.00</text>
<line x1="77.6" y1="784.75" x2="84.1" y2="784.75" stroke="#333" stroke-width="3"/>
<text x="70.39999999999999" y="792.65" text-anchor="end" font-size="17.6" fill="#4d4d4d">-0.05</text>
<line x1="77.6" y1="857.15" x2="84.1" y2="857.15" stroke="#333" stroke-width="3"/>
<text x="70.39999999999999" y="865.05" text-anchor="end" font-size="17.6" fill="#4d4d4d">-0.10</text>
<line x1="148.1" y1="863.9" x2="148.1" y2="870.9" stroke="#333" stroke-width="3"/>
<text x="148.1" y="891.1999999999999" text-anchor="middle" font-size="17.6" fill="#4d4d4d">-0.10</text>
<line x1="234.2" y1="863.9" x2="234.2" y2="870.9" stroke="#333" stroke-width="3"/>
<text x="234.2" y="891.1999999999999" text-anchor="middle" font-size="17.6" fill="#4d4d4d">-0.05</text>
<line x1="320.4" y1="863.9" x2="320.4" y2="870.9" stroke="#333" stroke-width="3"/>
<text x="320.4" y="891.1999999999999" text-anchor="middle" font-size="17.6" fill="#4d4d4d">0.00</text>
<line x1="406.5" y1="863.9" x2="406.5" y2="870.9" stroke="#333" stroke-width="3"/>
<text x="406.5" y="891.1999999999999" text-anchor="middle" font-size="17.6" fill="#4d4d4d">0.05</text>
<line x1="492.5" y1="863.9" x2="492.5" y2="870.9" stroke="#333" stroke-width="3"/>
<text x="492.5" y="891.1999999999999" text-anchor="middle" font-size="17.6" fill="#4d4d4d">0.10</text>
<text transform="translate(-0.7,490.7) scale(0.96,1)" font-size="34.5" font-weight="bold" fill="#000">B</text>
<text transform="translate(14.1,675.1) rotate(-90)" text-anchor="middle" font-size="18" fill="#000">PC2(16.12%)</text>
<text x="309.8" y="916.8" text-anchor="middle" font-size="18" fill="#000">PC1(20.43%)</text>
<text x="565.6" y="657.7" font-size="18" textLength="118.8" lengthAdjust="spacingAndGlyphs" fill="#000">Core collection</text>
<circle cx="591" cy="683.1" r="2.85" fill="#000000"/>
<text x="633.4" y="690.9" font-size="18" fill="#000">No</text>
<circle cx="591" cy="700.4" r="2.85" fill="#FF0000"/>
<text x="633.4" y="707.5" font-size="18" fill="#000">Yes</text>
</g>
</svg></body></html>
